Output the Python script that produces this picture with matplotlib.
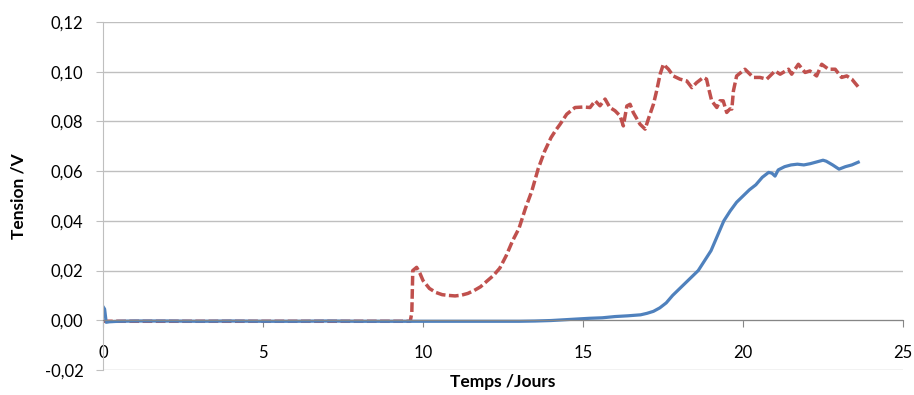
import matplotlib
matplotlib.use("Agg")
import matplotlib.pyplot as plt
from matplotlib.ticker import FuncFormatter, MultipleLocator

plt.rcParams['font.family'] = ['Lato', 'DejaVu Sans']

# Blue series (solid)
blue_x = [0, 0.05, 0.1, 0.2, 0.5, 1, 2, 3, 4, 5, 6, 7, 8, 9, 10, 11, 12, 13,
          13.5, 14, 14.4, 14.8, 15.2, 15.6, 16.0, 16.4, 16.8, 17.0, 17.2, 17.4,
          17.6, 17.8, 18.0, 18.2, 18.4, 18.6, 18.8, 19.0, 19.2, 19.4, 19.6,
          19.8, 20.0, 20.2, 20.4, 20.6, 20.8, 20.9, 21.0, 21.1, 21.3, 21.5,
          21.7, 21.9, 22.1, 22.3, 22.5, 22.6, 22.8, 23.0, 23.2, 23.4, 23.6]
blue_y = [0.0055, 0.0045, -0.0008, -0.0006, -0.0004, -0.0003, -0.0003, -0.0004,
          -0.0003, -0.0004, -0.0004, -0.0003, -0.0004, -0.0004, -0.0004, -0.0004,
          -0.0004, -0.0004, -0.0003, -0.0001, 0.0002, 0.0005, 0.0008, 0.0010,
          0.0015, 0.0018, 0.0022, 0.0028, 0.0036, 0.0050, 0.0070, 0.0100,
          0.0125, 0.0150, 0.0175, 0.0200, 0.0240, 0.0280, 0.0340, 0.0400,
          0.0440, 0.0475, 0.0500, 0.0525, 0.0545, 0.0575, 0.0595, 0.0592,
          0.0580, 0.0605, 0.0618, 0.0625, 0.0628, 0.0625, 0.0630, 0.0637,
          0.0644, 0.0640, 0.0625, 0.0608, 0.0618, 0.0625, 0.0636]

# Red series (dashed)
red_x = [0, 1, 2, 3, 4, 5, 6, 7, 8, 9, 9.6, 9.65, 9.68, 9.8, 9.9, 10.0, 10.2,
         10.4, 10.6, 10.8, 11.0, 11.2, 11.4, 11.6, 11.8, 12.0, 12.2, 12.4, 12.6,
         12.8, 13.0, 13.2, 13.4, 13.6, 13.8, 14.0, 14.15, 14.28, 14.49, 14.75,
         15.01, 15.22, 15.38, 15.53, 15.69, 15.84, 16.0, 16.16, 16.26, 16.37,
         16.47, 16.57, 16.78, 16.94, 17.04, 17.2, 17.3, 17.41, 17.51, 17.67,
         17.82, 18.03, 18.24, 18.4, 18.55, 18.76, 18.86, 18.92, 19.02, 19.18,
         19.28, 19.38, 19.49, 19.59, 19.65, 19.7, 19.8, 20.06, 20.32, 20.53,
         20.74, 21.0, 21.16, 21.42, 21.52, 21.73, 21.94, 22.09, 22.3, 22.46,
         22.67, 22.88, 23.08, 23.24, 23.4, 23.6]
red_y = [-0.0004, -0.0004, -0.0004, -0.0004, -0.0004, -0.0004, -0.0004, -0.0004,
         -0.0004, -0.0004, -0.0004, 0.003, 0.020, 0.0213, 0.019, 0.016, 0.0128,
         0.0112, 0.0103, 0.0100, 0.0098, 0.0101, 0.0108, 0.0120, 0.0135, 0.0158,
         0.0180, 0.0210, 0.0260, 0.0320, 0.0370, 0.0450, 0.0520, 0.0610, 0.0680,
         0.0735, 0.0765, 0.0788, 0.0829, 0.0856, 0.0858, 0.0856, 0.0883, 0.0863,
         0.0890, 0.0856, 0.0843, 0.0822, 0.0782, 0.0862, 0.0869, 0.0836, 0.0789,
         0.0769, 0.0809, 0.0869, 0.0923, 0.0990, 0.1030, 0.1010, 0.0983, 0.0970,
         0.0963, 0.0936, 0.0956, 0.0977, 0.0970, 0.0936, 0.0883, 0.0856, 0.0883,
         0.0883, 0.0836, 0.0850, 0.0850, 0.0923, 0.0983, 0.1010, 0.0977, 0.0977,
         0.0970, 0.1003, 0.0990, 0.1010, 0.0990, 0.1030, 0.0997, 0.1003, 0.0983,
         0.1030, 0.1010, 0.1010, 0.0977, 0.0983, 0.0970, 0.0939]

fig = plt.figure(figsize=(9.14, 3.95), dpi=100)
ax = fig.add_axes([0.1127, 0.0633, 0.8753, 0.881])

ax.plot(red_x, red_y, color='#C0504D', lw=2.5, linestyle=(0, (2.8, 1.0)))
ax.plot(blue_x, blue_y, color='#4F81BD', lw=2.3)

ax.set_xlim(0, 25)
ax.set_ylim(-0.02, 0.12)
ax.xaxis.set_major_locator(MultipleLocator(5))
ax.yaxis.set_major_locator(MultipleLocator(0.02))


def fmt(v, pos):
    s = f"{v:.2f}".replace('.', ',')
    return "0,00" if s == "-0,00" else s


ax.yaxis.set_major_formatter(FuncFormatter(fmt))

ax.set_axisbelow(True)
ax.yaxis.grid(True, color='#BFBFBF', lw=1)
ax.spines['top'].set_visible(False)
ax.spines['right'].set_visible(False)
ax.spines['bottom'].set_position(('data', 0))
ax.spines['bottom'].set_color('#868686')
ax.spines['left'].set_color('#BFBFBF')

ax.tick_params(axis='y', length=5, color='#BFBFBF', labelsize=12, pad=9)
ax.tick_params(axis='x', length=5, color='#868686', labelsize=12, pad=13)

ax.set_xlabel('Temps /Jours', fontsize=12.5, fontweight='bold')
ax.set_ylabel('Tension /V', fontsize=12.5, fontweight='bold')
ax.xaxis.set_label_coords(0.5, -0.012)
ax.yaxis.set_label_coords(-0.096, 0.5)

fig.savefig('out.png', dpi=100)
